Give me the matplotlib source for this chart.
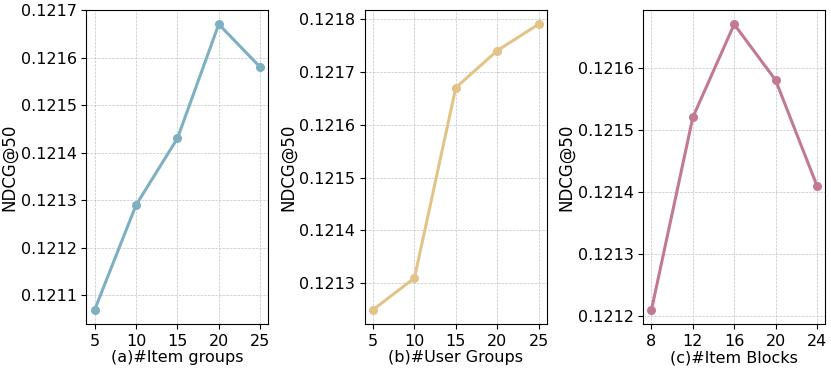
import matplotlib
matplotlib.use('Agg')
import matplotlib.pyplot as plt

# hyper-parameter sensitivity, NDCG@50
item_groups = [5, 10, 15, 20, 25]
ndcg_item_groups = [0.12107, 0.12129, 0.12143, 0.12167, 0.12158]

user_groups = [5, 10, 15, 20, 25]
ndcg_user_groups = [0.12125, 0.12131, 0.12167, 0.12174, 0.12179]

item_blocks = [8, 12, 16, 20, 24]
ndcg_item_blocks = [0.12121, 0.12152, 0.12167, 0.12158, 0.12141]

xlabels = ['(a)#Item groups', '(b)#User Groups', '(c)#Item Blocks']
colors = ['#7EB0C1', '#E3C488', '#C27A93']

fig, axes = plt.subplots(1, 3, figsize=(8.31, 3.69), dpi=100)
series = [(item_groups, ndcg_item_groups),
          (user_groups, ndcg_user_groups),
          (item_blocks, ndcg_item_blocks)]

for ax, (x, y), lab, c in zip(axes, series, xlabels, colors):
    ax.plot(x, y, color=c, lw=2.2, marker='o', ms=5.5)
    ax.set_xticks(x)
    ax.set_xlabel(lab, fontsize=11.5, labelpad=1)
    ax.set_ylabel('NDCG@50', fontsize=12, labelpad=1.5)
    ax.grid(True, ls='--', lw=0.5, color='#c4c4c4')
    ax.tick_params(labelsize=11.5)
    ax.yaxis.set_major_formatter(matplotlib.ticker.FormatStrFormatter('%.4f'))

plt.subplots_adjust(left=0.104, right=0.993, top=0.973, bottom=0.122, wspace=0.53)
plt.savefig('out.png', dpi=100)
